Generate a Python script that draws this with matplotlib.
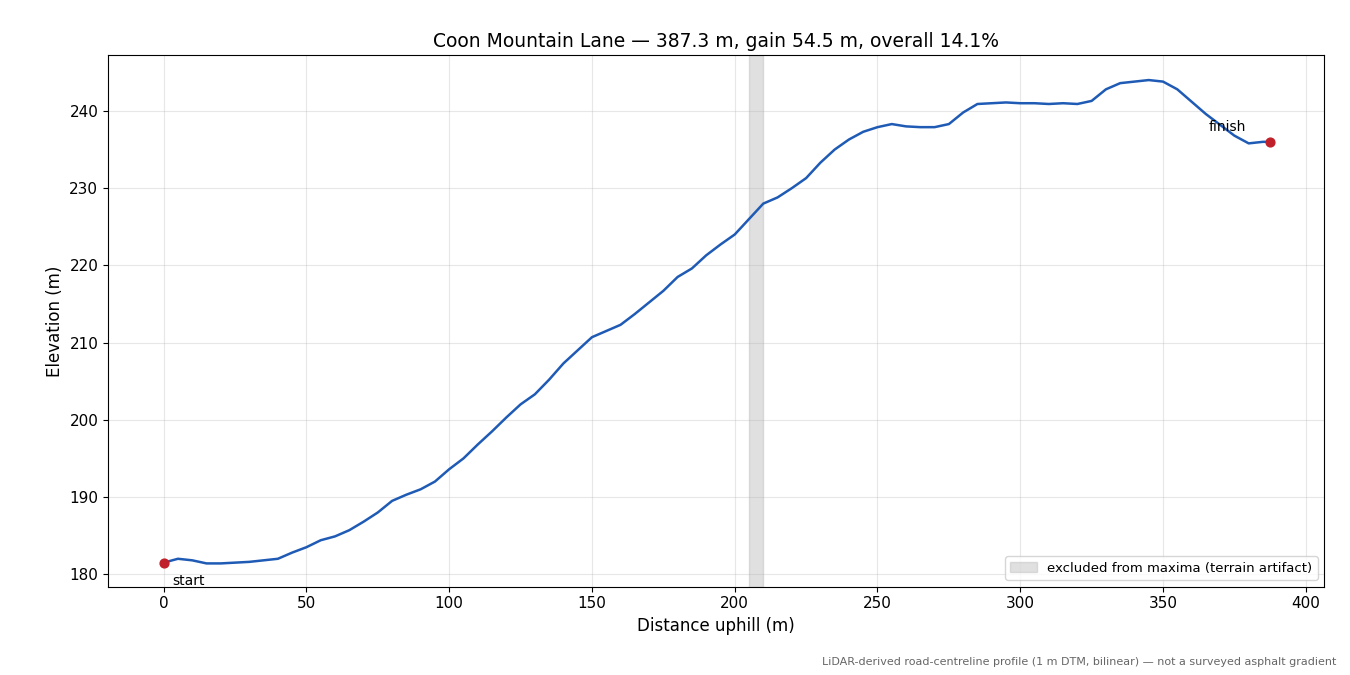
import matplotlib
matplotlib.use("Agg")
import matplotlib.pyplot as plt

dist = [0,5,10,15,20,25,30,35,40,45,50,55,60,65,70,75,80,85,90,95,100,105,110,115,120,125,130,135,140,145,150,155,160,165,170,175,180,185,190,195,200,205,210,215,220,225,230,235,240,245,250,255,260,265,270,275,280,285,290,295,300,305,310,315,320,325,330,335,340,345,350,355,360,365,370,375,380,385,387.3]
elev = [181.5,182.0,181.8,181.4,181.4,181.5,181.6,181.8,182.0,182.8,183.5,184.4,184.9,185.7,186.8,188.0,189.5,190.3,191.0,192.0,193.6,195.0,196.8,198.5,200.3,202.0,203.3,205.2,207.3,209.0,210.7,211.5,212.3,213.7,215.2,216.7,218.5,219.6,221.3,222.7,224.0,226.0,228.0,228.8,230.0,231.3,233.3,235.0,236.3,237.3,237.9,238.3,238.0,237.9,237.9,238.3,239.8,240.9,241.0,241.1,241.0,241.0,240.9,241.0,240.9,241.3,242.8,243.6,243.8,244.0,243.8,242.8,241.2,239.6,238.2,236.8,235.8,236.0,236.0]
excl = (205, 210)

fig, ax = plt.subplots(figsize=(13.5, 6.75), dpi=100)
fig.subplots_adjust(left=0.08, right=0.981, top=0.918, bottom=0.131)
ax.axvspan(*excl, color='#bbbbbb', alpha=0.45, label='excluded from maxima (terrain artifact)')
ax.plot(dist, elev, color='#1f5bb5', lw=1.8)
ax.scatter([dist[0], dist[-1]], [elev[0], elev[-1]], color='#c0202a', s=40, zorder=5)
ax.annotate('start', (dist[0], elev[0]), xytext=(6, -16), textcoords='offset points', fontsize=10)
ax.annotate('finish', (dist[-1], elev[-1]), xytext=(-44, 8), textcoords='offset points', fontsize=10)
ax.set_xlim(-19.5, 406.5)
ax.set_ylim(178.4, 247.2)
ax.grid(True, alpha=0.3)
ax.set_xlabel('Distance uphill (m)', fontsize=12)
ax.set_ylabel('Elevation (m)', fontsize=12)
ax.tick_params(labelsize=11)
ax.set_title('Coon Mountain Lane — 387.3 m, gain 54.5 m, overall 14.1%', fontsize=13.5)
ax.legend(loc='lower right', fontsize=9.5)
fig.text(0.99, 0.012, 'LiDAR-derived road-centreline profile (1 m DTM, bilinear) — not a surveyed asphalt gradient',
         ha='right', va='bottom', fontsize=8, color='#666666')
fig.savefig('out.png')
